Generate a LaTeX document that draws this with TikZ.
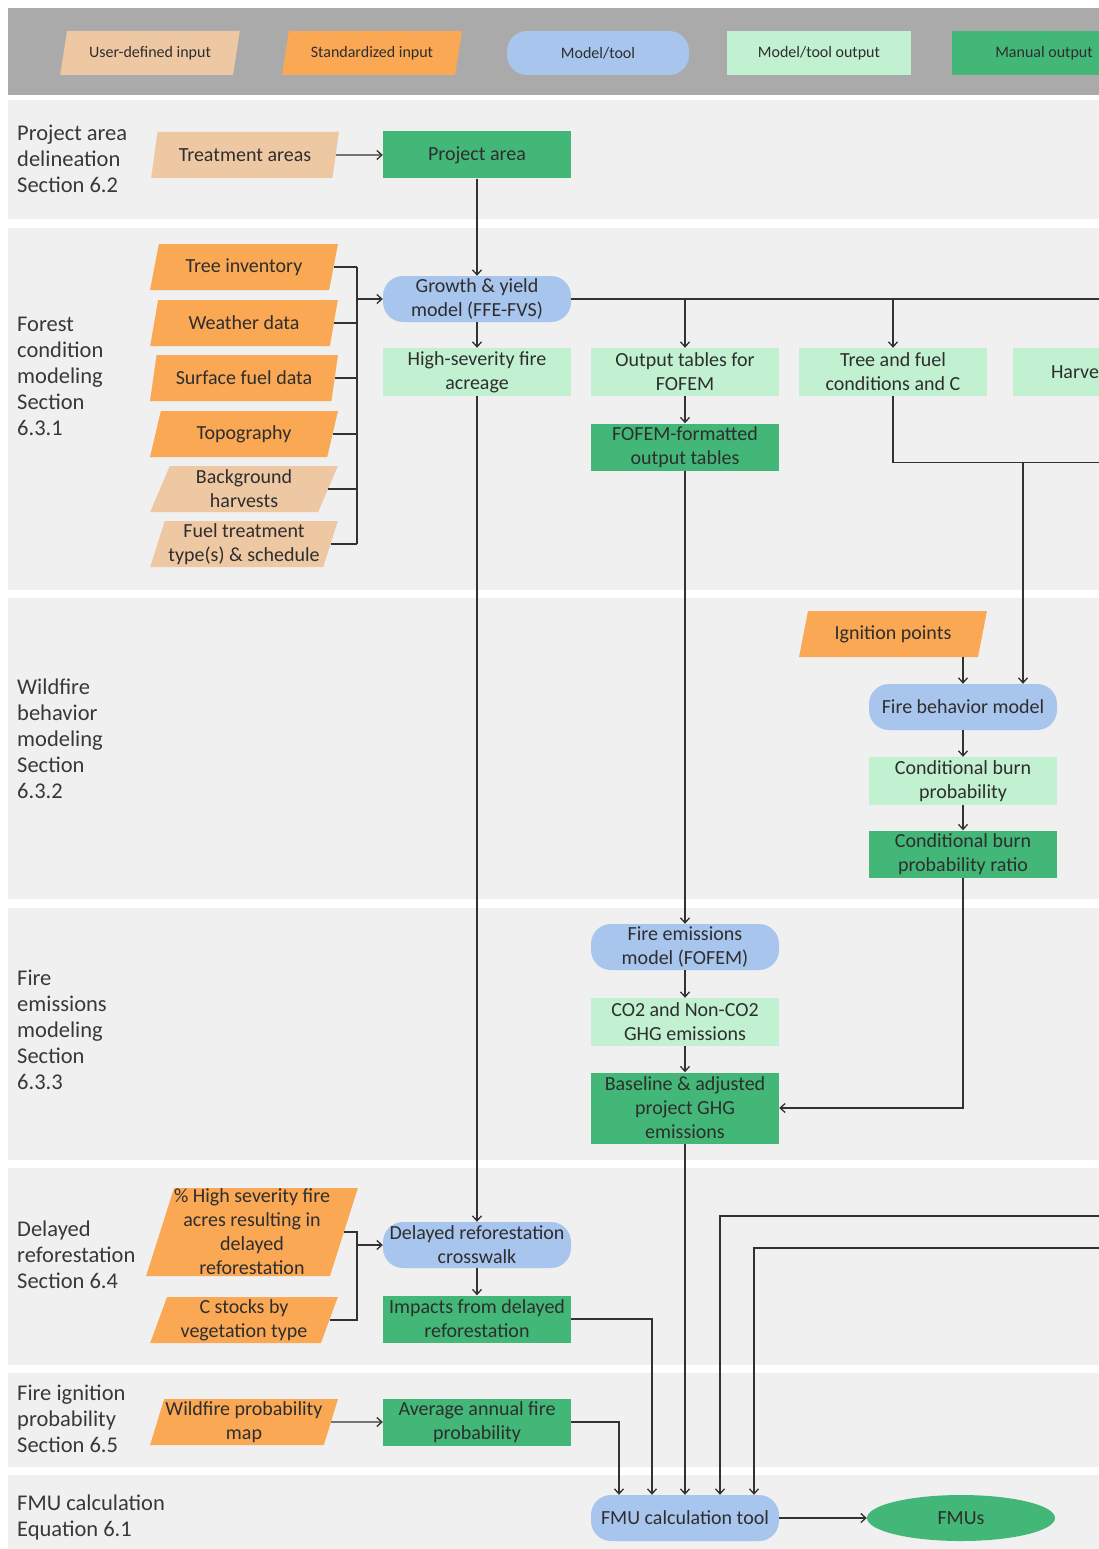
\documentclass[tikz,border=0pt]{standalone}
\usepackage{fontspec}
\setmainfont{Carlito}
\usepackage{tikz}
\usetikzlibrary{arrows.meta,positioning,calc,shapes.geometric}
\usepackage{xcolor}

\definecolor{userin}{RGB}{238,199,163}
\definecolor{stdin}{RGB}{250,168,84}
\definecolor{modelbl}{RGB}{168,197,238}
\definecolor{outgr}{RGB}{193,241,208}
\definecolor{mangr}{RGB}{66,183,120}
\definecolor{bandbg}{RGB}{240,240,240}
\definecolor{headbg}{RGB}{170,170,170}
\definecolor{wire}{RGB}{50,50,50}

\begin{document}
\begin{tikzpicture}[
  x=1pt, y=-1pt,
  every node/.style={font=\fontsize{20}{24}\selectfont, text=black!82, align=center, inner sep=1pt},
  inbox/.style={trapezium, trapezium left angle=72, trapezium right angle=108,
    trapezium stretches=true, minimum width=188pt, minimum height=46pt},
  usernode/.style={inbox, fill=userin},
  stdnode/.style={inbox, fill=stdin},
  modelnode/.style={rectangle, rounded corners=20pt, fill=modelbl, minimum width=188pt, minimum height=46pt},
  outnode/.style={rectangle, fill=outgr, minimum width=188pt, minimum height=48pt},
  mannode/.style={rectangle, fill=mangr, minimum width=188pt, minimum height=47pt},
  legend/.style={font=\fontsize{16}{18}\selectfont, minimum height=44pt},
  seclabel/.style={anchor=west, align=left, inner sep=0pt, font=\fontsize{22.5}{26}\selectfont, text=black!78},
  conn/.style={draw=wire, line width=1.3pt},
  arr/.style={conn, -{Straight Barb[length=5pt, width=9pt]}},
]
\useasboundingbox (0,0) rectangle (1099,1549);
\clip (0,0) rectangle (1099,1549);

% ---- Background bands ----
\fill[headbg] (8,8) rectangle (1115,95);
\foreach \ya/\yb in {100/219, 228/590, 598/899, 908/1160, 1168/1365, 1373/1467, 1475/1560}
  \fill[bandbg] (8,\ya) rectangle (1115,\yb);

% ---- Legend ----
\node[usernode, legend, minimum width=180pt] (lguser) at (150,53) {User-defined input};
\node[stdnode, legend, minimum width=180pt] (lgstd) at (372,53) {Standardized input};
\node[modelnode, legend, minimum width=182pt] (lgmodel) at (598,53) {Model/tool};
\node[outnode, legend, minimum width=184pt] (lgout) at (819,53) {Model/tool output};
\node[mannode, legend, minimum width=184pt] (lgman) at (1044,53) {Manual output};

% ---- Section labels ----
\foreach \n/\y/\t in {pa/159/{Project area\\delineation\\Section 6.2},
    fc/376/{Forest\\condition\\modeling\\Section\\6.3.1},
    wb/739/{Wildfire\\behavior\\modeling\\Section\\6.3.2},
    fe/1030/{Fire\\emissions\\modeling\\Section\\6.3.3},
    dr/1255/{Delayed\\reforestation\\Section 6.4},
    fi/1419/{Fire ignition\\probability\\Section 6.5},
    fmu/1517/{FMU calculation\\Equation 6.1}}
  \node[seclabel] (sec\n) at (17,\y) {\t};

% ---- Project area delineation ----
\node[usernode] (treat) at (245,155) {Treatment areas};
\node[mannode] (parea) at (477,155) {Project area};

% ---- Forest condition modeling ----
\foreach \n/\y/\s/\t in {tree/267/stdnode/{Tree inventory}, weather/323/stdnode/{Weather data},
    sfuel/378/stdnode/{Surface fuel data}, topo/434/stdnode/{Topography},
    bgharv/489/usernode/{Background\\harvests}, fueltr/544/usernode/{Fuel treatment\\type(s) \& schedule}}
  \node[\s] (\n) at (244,\y) {\t};
\node[modelnode] (grow) at (477,299) {Growth \& yield\\model (FFE-FVS)};
\node[outnode] (hsf) at (477,372) {High-severity fire\\acreage};
\node[outnode] (fotab) at (685,372) {Output tables for\\FOFEM};
\node[outnode] (tfc) at (893,372) {Tree and fuel\\conditions and C};
\node[outnode, text width=112pt, align=left] (harv) at (1107,372) {Harve};
\node[mannode] (fofem) at (685,447) {FOFEM-formatted\\output tables};

% ---- Wildfire behavior modeling ----
\node[stdnode] (ign) at (893,634) {Ignition points};
\node[modelnode] (fbm) at (963,707) {Fire behavior model};
\node[outnode] (cbp) at (963,781) {Conditional burn\\probability};
\node[mannode] (cbpr) at (963,854) {Conditional burn\\probability ratio};

% ---- Fire emissions modeling ----
\node[modelnode] (fem) at (685,947) {Fire emissions\\model (FOFEM)};
\node[outnode] (ghg) at (685,1022) {CO2 and Non-CO2\\GHG emissions};
\node[mannode, minimum height=71pt] (base) at (685,1108) {Baseline \& adjusted\\project GHG\\emissions};

% ---- Delayed reforestation ----
\node[stdnode, minimum width=205pt, minimum height=88pt, inner sep=0pt] (pct) at (252,1232)
  {\% High severity fire\\acres resulting in\\delayed\\reforestation};
\node[stdnode] (cstock) at (244,1320) {C stocks by\\vegetation type};
\node[modelnode] (cw) at (477,1245) {Delayed reforestation\\crosswalk};
\node[mannode] (imp) at (477,1319) {Impacts from delayed\\reforestation};

% ---- Fire ignition probability ----
\node[stdnode] (wpm) at (244,1422) {Wildfire probability\\map};
\node[mannode] (aafp) at (477,1422) {Average annual fire\\probability};

% ---- FMU calculation ----
\node[modelnode] (fmu) at (685,1518) {FMU calculation tool};
\node[mannode, ellipse, minimum height=46pt] (fmus) at (961,1518) {FMUs};

% ---- Connectors ----
\coordinate (bus) at (357,0);
\coordinate (edge) at (1115,0);
\draw[arr] (treat) -- (parea);
\draw[arr] (parea) -- (grow);
\foreach \n in {tree,weather,sfuel,topo,bgharv,fueltr}
  \draw[conn] (\n.east) -- (\n.east -| bus);
\draw[conn] (tree.east -| bus) -- (fueltr.east -| bus);
\draw[arr] (grow.west -| bus) -- (grow.west);
\draw[arr] (grow) -- (hsf);
\draw[conn] (grow.east) -- (grow.east -| edge);
\draw[arr] (grow.east -| fotab) -- (fotab);
\draw[arr] (grow.east -| tfc) -- (tfc);
\draw[arr] (fotab) -- (fofem);
\draw[arr] (fofem) -- (fem);
\draw[arr] (fem) -- (ghg);
\draw[arr] (ghg) -- (base);
\draw[arr] (base) -- (fmu);

\draw[conn] (tfc.south) -- ++(0,66) coordinate (tj) -- (tj -| edge);
\coordinate (hj) at (1023,462);
\draw[arr] (hj) -- (hj |- fbm.north);
\draw[arr] (ign.south -| fbm) -- (fbm);
\draw[arr] (fbm) -- (cbp);
\draw[arr] (cbp) -- (cbpr);
\draw[arr] (cbpr.south) |- (base.east);

\draw[arr] (hsf) -- (cw);
\draw[conn] (pct.east) -- (pct.east -| bus) -- (cstock.east -| bus) -- (cstock.east);
\draw[arr] (cw.west -| bus) -- (cw.west);
\draw[arr] (cw) -- (imp);
\draw[arr] (wpm) -- (aafp);

\draw[arr] (aafp.east) -| ($(fmu.north)+(-66,0)$);
\draw[arr] (imp.east) -| ($(fmu.north)+(-33,0)$);
\coordinate (rin1) at (1115,1216);
\coordinate (rin2) at (1115,1248);
\draw[arr] (rin1) -| ($(fmu.north)+(35,0)$);
\draw[arr] (rin2) -| ($(fmu.north)+(69,0)$);
\draw[arr] (fmu) -- (fmus);

\end{tikzpicture}
\end{document}
